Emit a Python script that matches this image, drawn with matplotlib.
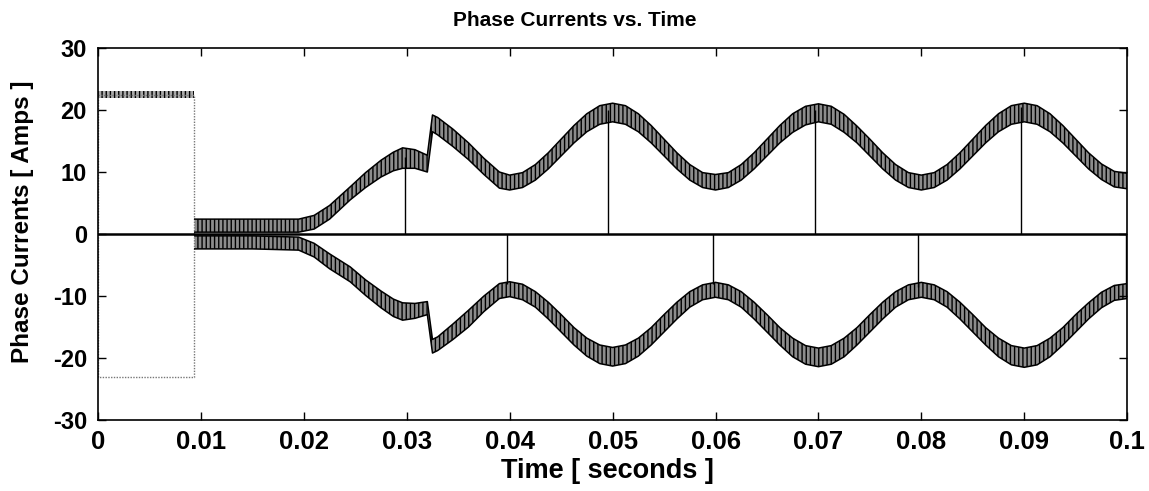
import numpy as np
import matplotlib.pyplot as plt

plt.rcParams['font.family'] = ['Liberation Sans', 'DejaVu Sans']
plt.rcParams['font.weight'] = 'bold'
plt.rcParams['hatch.linewidth'] = 1.0

# startup interval: current held at full value before chopping begins
t_start = [0.0, 0.0, 0.0093, 0.0093]
start_pos = [0.0, 22.5, 22.5, 0.0]
start_neg = [0.0, -23.0, -23.0, 0.0]
start_band_t = [0.0, 0.0093]
start_band_hi = [23.0, 23.0]
start_band_lo = [22.0, 22.0]

# envelope of the chopped phase currents (upper / lower edge of each band)
t_env = [0.0094, 0.0150, 0.0195, 0.0210, 0.0225, 0.0245, 0.0260, 0.0275, 0.0287,
         0.0296, 0.0308, 0.0320, 0.0325, 0.0330, 0.0345, 0.0360, 0.0375, 0.0390,
         0.04000, 0.04125, 0.04250, 0.04375, 0.04500, 0.04625, 0.04750, 0.04875,
         0.05000, 0.05125, 0.05250, 0.05375, 0.05500, 0.05625, 0.05750, 0.05875,
         0.06000, 0.06125, 0.06250, 0.06375, 0.06500, 0.06625, 0.06750, 0.06875,
         0.07000, 0.07125, 0.07250, 0.07375, 0.07500, 0.07625, 0.07750, 0.07875,
         0.08000, 0.08125, 0.08250, 0.08375, 0.08500, 0.08625, 0.08750, 0.08875,
         0.09000, 0.09125, 0.09250, 0.09375, 0.09500, 0.09625, 0.09750, 0.09875,
         0.10000]
pos_hi = [2.4, 2.4, 2.4, 3.0, 4.6, 7.6, 9.9, 11.9, 13.2, 13.9, 13.6, 12.7, 19.2,
          18.8, 16.9, 14.7, 12.2, 10.0,
          9.5, 9.9, 11.2, 13.1, 15.3, 17.5, 19.4, 20.7,
          21.1, 20.7, 19.4, 17.5, 15.3, 13.1, 11.2, 9.9,
          9.6, 9.9, 11.2, 13.1, 15.3, 17.5, 19.4, 20.6,
          21.0, 20.6, 19.3, 17.4, 15.3, 13.1, 11.2, 9.9,
          9.5, 9.9, 11.2, 13.1, 15.3, 17.5, 19.4, 20.7,
          21.1, 20.7, 19.4, 17.5, 15.3, 13.1, 11.3, 10.1,
          9.8]
pos_lo = [0.3, 0.3, 0.3, 0.8, 2.4, 5.5, 7.5, 9.2, 10.2, 10.6, 10.6, 10.0, 16.5,
          16.0, 14.1, 12.0, 9.6, 7.4,
          7.1, 7.5, 8.7, 10.5, 12.6, 14.7, 16.5, 17.7,
          18.1, 17.7, 16.5, 14.7, 12.6, 10.5, 8.7, 7.5,
          7.1, 7.5, 8.7, 10.5, 12.6, 14.7, 16.4, 17.6,
          18.1, 17.7, 16.4, 14.7, 12.6, 10.5, 8.7, 7.5,
          7.1, 7.5, 8.7, 10.5, 12.6, 14.7, 16.5, 17.7,
          18.1, 17.7, 16.5, 14.7, 12.6, 10.5, 8.8, 7.6,
          7.3]
neg_hi = [-0.3, -0.3, -0.5, -1.5, -3.2, -5.3, -7.4, -9.2, -10.5, -11.1, -11.2,
          -10.9, -17.0, -16.6, -14.5, -12.3, -10.0, -8.0,
          -7.7, -8.1, -9.3, -11.0, -13.0, -15.1, -16.8, -17.9,
          -18.3, -17.9, -16.8, -15.1, -13.0, -11.0, -9.3, -8.2,
          -7.8, -8.2, -9.3, -11.0, -13.0, -15.1, -16.8, -18.0,
          -18.4, -18.0, -16.8, -15.1, -13.0, -11.0, -9.3, -8.2,
          -7.8, -8.2, -9.3, -11.0, -13.0, -15.1, -16.8, -18.0,
          -18.4, -18.0, -16.8, -15.1, -13.0, -11.1, -9.4, -8.3,
          -8.0]
neg_lo = [-2.4, -2.4, -2.6, -3.7, -5.6, -7.7, -9.9, -11.9, -13.3, -13.9, -13.6,
          -13.0, -19.2, -18.8, -17.0, -15.0, -12.5, -10.4,
          -10.1, -10.6, -11.8, -13.7, -15.8, -17.9, -19.7, -20.9,
          -21.3, -20.9, -19.7, -17.9, -15.8, -13.7, -11.8, -10.6,
          -10.2, -10.6, -11.8, -13.7, -15.8, -17.9, -19.8, -21.0,
          -21.4, -21.0, -19.8, -17.9, -15.8, -13.7, -11.8, -10.6,
          -10.2, -10.6, -11.8, -13.7, -15.8, -17.9, -19.8, -21.1,
          -21.5, -21.1, -19.8, -17.9, -15.8, -13.7, -11.9, -10.7,
          -10.4]

# commutation spikes from zero out to the active band
spike_t = [0.0298, 0.0397, 0.0496, 0.0598, 0.0697, 0.0797, 0.0897, 0.0999]
spike_v = [12.5, -8.0, 20.0, -8.0, 20.0, -8.5, 20.5, -10.0]

x_ticks = [0, 0.01, 0.02, 0.03, 0.04, 0.05, 0.06, 0.07, 0.08, 0.09, 0.1]
x_labels = ['0', '0.01', '0.02', '0.03', '0.04', '0.05', '0.06', '0.07', '0.08', '0.09', '0.1']
y_ticks = [-30, -20, -10, 0, 10, 20, 30]
y_labels = ['-30', '-20', '-10', '0', '10', '20', '30']

fig = plt.figure(figsize=(11.49, 4.91), dpi=100)
ax = fig.add_axes([0.0853, 0.1446, 0.8957, 0.7576])

ax.axhline(0, color='black', linewidth=1.8, zorder=3)

ax.plot(t_start, start_pos, color='#777777', linewidth=1.0, linestyle=(0, (1, 1)))
ax.plot(t_start, start_neg, color='#777777', linewidth=1.0, linestyle=(0, (1, 1)))
ax.fill_between(start_band_t, start_band_lo, start_band_hi, facecolor='#aaaaaa',
                edgecolor='black', hatch='||||', linewidth=0)

for hi, lo in [(pos_hi, pos_lo), (neg_hi, neg_lo)]:
    ax.fill_between(t_env, lo, hi, facecolor='#8c8c8c', edgecolor='black',
                    hatch='||||', linewidth=0)
    ax.plot(t_env, hi, color='black', linewidth=1.1)
    ax.plot(t_env, lo, color='black', linewidth=1.1)

ax.vlines(spike_t, 0, spike_v, color='black', linewidth=1.0)

ax.set_xlim(0, 0.1)
ax.set_ylim(-30, 30)
ax.set_xticks(x_ticks)
ax.set_xticklabels(x_labels)
ax.set_yticks(y_ticks)
ax.set_yticklabels(y_labels)
ax.tick_params(direction='in', length=6, width=1, top=True, right=True)
ax.tick_params(axis='x', pad=7, labelsize=18.5)
ax.tick_params(axis='y', pad=8, labelsize=17)
for s in ax.spines.values():
    s.set_linewidth(1.2)

fig.text(0.5005, 0.958, 'Phase Currents vs. Time', ha='center', va='center',
         fontsize=15, fontweight='bold')
fig.text(0.529, 0.0265, 'Time [ seconds ]', ha='center', va='baseline',
         fontsize=19.5, fontweight='bold')
fig.text(0.020, 0.548, 'Phase Currents [ Amps ]', ha='center', va='center',
         rotation=90, fontsize=17.5, fontweight='bold')

fig.savefig('out.png', dpi=100)
